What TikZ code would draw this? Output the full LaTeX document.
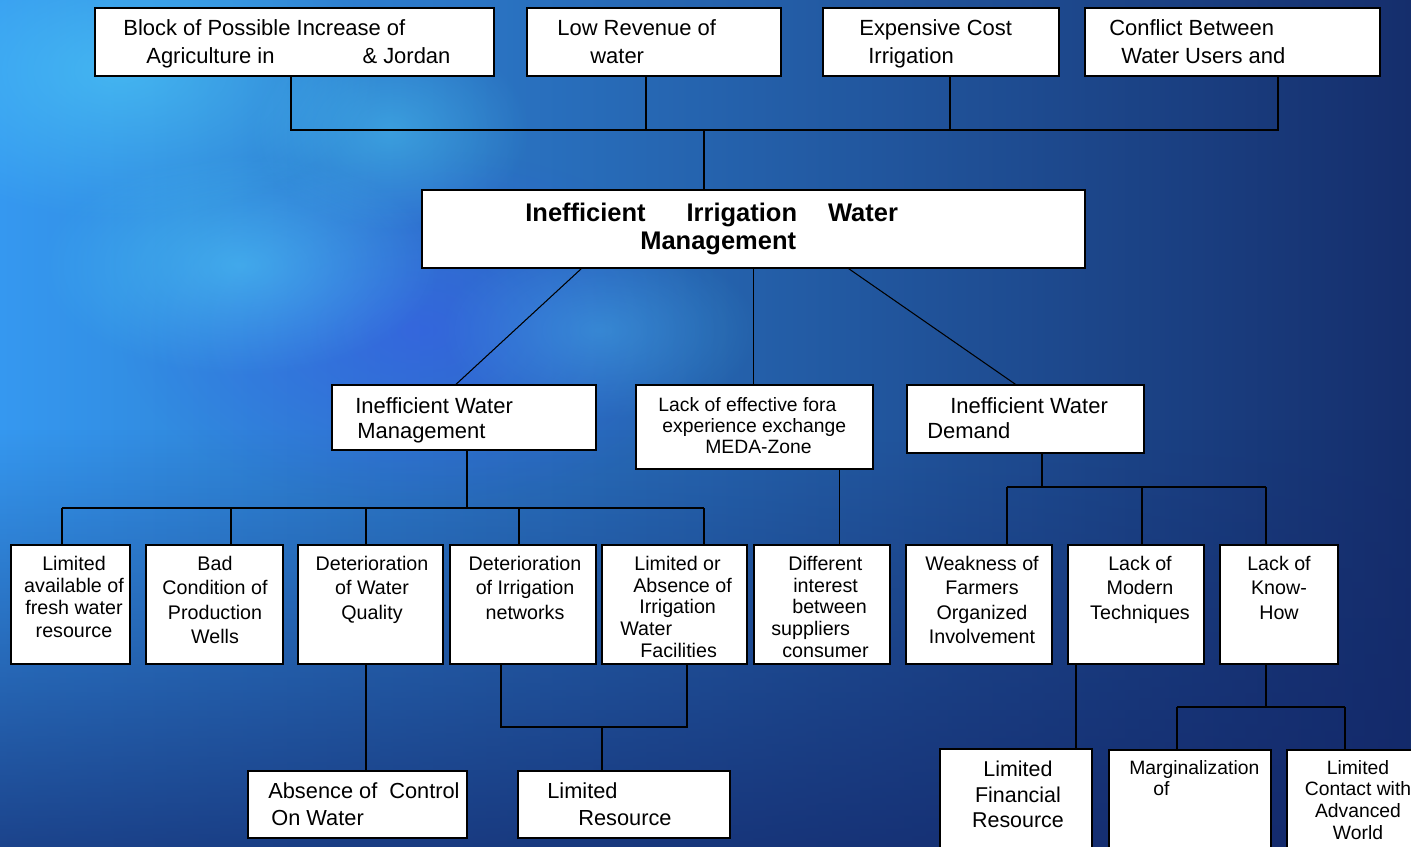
\documentclass[tikz,border=0pt]{standalone}
\usepackage{fontspec}
\setmainfont{Liberation Sans}
\usetikzlibrary{calc,fit,fadings}
\newlength{\px}\setlength{\px}{0.02cm}
\definecolor{bgleft}{HTML}{3598F0}
\definecolor{bgmid}{HTML}{2C5ADA}
\definecolor{bgright}{HTML}{152E6C}
\definecolor{glow}{HTML}{52D4FA}
\definecolor{deep}{HTML}{13276A}
\definecolor{bgviolet}{HTML}{3D55F0}
\tikzfading[name=glowfade, inner color=transparent!0, outer color=transparent!100]
\tikzset{
  box/.style={draw=black, fill=white, line width=0.75pt, inner sep=0pt},
  link/.style={line width=0.6pt},
  txt/.style={inner sep=0pt, anchor=north west, align=left, font=\fontsize{12.5}{15.9}\selectfont},
  ctxt/.style={inner sep=0pt, anchor=north, align=center, font=\fontsize{11.2}{13.8}\selectfont},
}
\begin{document}
\begin{tikzpicture}[x=0.02cm,y=-0.02cm]
\useasboundingbox (0,0) rectangle (1411,847);
% background
\shade[left color=bgleft, middle color=bgmid, right color=bgright] (0,0) rectangle (1411,847);
\fill[bgviolet, path fading=glowfade, fill opacity=.5] (420,330) ellipse (300 and 180);
\fill[glow, path fading=glowfade, fill opacity=.55] (120,70) ellipse (260 and 150);
\fill[glow, path fading=glowfade, fill opacity=.5] (240,265) ellipse (200 and 110);
\fill[glow, path fading=glowfade, fill opacity=.4] (390,130) ellipse (140 and 100);
\fill[glow, path fading=glowfade, fill opacity=.3] (600,330) ellipse (160 and 90);
\fill[deep, path fading=north, fill opacity=.75] (0,430) rectangle (1411,847);
% junctions
\coordinate (j0) at (704,130);
\coordinate (j1) at (291,130);
\coordinate (j2) at (646,130);
\coordinate (j3) at (950,130);
\coordinate (j4) at (1278,130);
\coordinate (m0) at (467,508);
\coordinate (m1) at (62,508);
\coordinate (m2) at (231,508);
\coordinate (m3) at (366,508);
\coordinate (m4) at (519,508);
\coordinate (m5) at (704,508);
\coordinate (n0) at (1042,487);
\coordinate (n1) at (1007,487);
\coordinate (n2) at (1142,487);
\coordinate (n3) at (1266,487);
\coordinate (p0) at (602,727);
\coordinate (p1) at (501,727);
\coordinate (p2) at (687,727);
\coordinate (q0) at (1076,700);
\coordinate (r0) at (1266,707);
\coordinate (r1) at (1177,707);
\coordinate (r2) at (1345,707);
% boxes
\node[box, fit={(95,8) (494,76)}] (agri) {};
\node[box, fit={(527,8) (781,76)}] (revenue) {};
\node[box, fit={(823,8) (1059,76)}] (cost) {};
\node[box, fit={(1085,8) (1380,76)}] (conflict) {};
\node[box, fit={(422,190) (1085,268)}] (main) {};
\node[box, fit={(332,385) (596,450)}] (mgmt) {};
\node[box, fit={(636,385) (873,469)}] (fora) {};
\node[box, fit={(907,385) (1144,453)}] (demand) {};
\node[box, fit={(11,545) (130,664)}] (fresh) {};
\node[box, fit={(146,545) (283,664)}] (wells) {};
\node[box, fit={(298,545) (443,664)}] (quality) {};
\node[box, fit={(450,545) (596,664)}] (networks) {};
\node[box, fit={(602,545) (747,664)}] (facil) {};
\node[box, fit={(754,545) (890,664)}] (interest) {};
\node[box, fit={(906,545) (1052,664)}] (farmers) {};
\node[box, fit={(1068,545) (1204,664)}] (modern) {};
\node[box, fit={(1220,545) (1338,664)}] (knowhow) {};
\node[box, fit={(248,771) (467,838)}] (control) {};
\node[box, fit={(518,771) (730,838)}] (finres) {};
\node[box, fit={(940,749) (1092,870)}] (finance) {};
\node[box, fit={(1109,750) (1271,870)}] (margin) {};
\node[box, fit={(1287,750) (1440,870)}] (contact) {};
% connectors
\draw[link] (agri.south -| j1) -- (j1) -- (j4) -- (conflict.south -| j4);
\draw[link] (revenue.south -| j2) -- (j2);
\draw[link] (cost.south -| j3) -- (j3);
\draw[link] (j0) -- (main.north -| j0);
\draw[link] ($(main.south west)+(160,0)$) -- ($(mgmt.north)+(-8,0)$);
\draw[link] (main.south) -- (main.south |- fora.north);
\draw[link] ($(main.south east)+(-237,0)$) -- ($(demand.north)+(-10,0)$);
\draw[link] (mgmt.south -| m0) -- (m0);
\draw[link] (m1) -- (m5);
\foreach \b/\m in {fresh/m1, wells/m2, quality/m3, networks/m4, facil/m5}
  \draw[link] (\m) -- (\b.north -| \m);
\draw[link] ($(fora.south east)+(-34,0)$) coordinate (f0) -- (f0 |- interest.north);
\draw[link] (demand.south -| n0) -- (n0);
\draw[link] (n1) -- (n3);
\foreach \b/\m in {farmers/n1, modern/n2, knowhow/n3}
  \draw[link] (\m) -- (\b.north -| \m);
\draw[link] (quality.south -| m3) -- (control.north -| m3);
\draw[link] (networks.south -| p1) -- (p1) -- (p2) -- (facil.south -| p2);
\draw[link] (p0) -- (finres.north -| p0);
\draw[link] (modern.south -| q0) -- (finance.north -| q0);
\draw[link] (knowhow.south -| r0) -- (r0);
\draw[link] (r1) -- (r2);
\draw[link] (r1) -- (margin.north -| r1);
\draw[link] (r2) -- (contact.north -| r2);
% texts
\node[txt] (agri-t) at (123,19) {Block of Possible Increase of\\\hspace*{23\px}Agriculture in\hspace*{88\px}\& Jordan};
\node[txt] (revenue-t) at (557,19) {Low Revenue of\\\hspace*{33\px}water};
\node[txt] (cost-t) at (859,19) {Expensive Cost\\\hspace*{9\px}Irrigation};
\node[txt] (conflict-t) at (1109,19) {Conflict Between\\\hspace*{12\px}Water Users and};
\node[txt, font=\bfseries\fontsize{14.5}{15.9}\selectfont] (main-t) at (525,203)
  {Inefficient\hspace*{41\px}Irrigation\hspace*{31\px}Water\\\hspace*{115\px}Management};
\node[txt, font=\fontsize{12.5}{14.2}\selectfont] (mgmt-t) at (355,397) {Inefficient Water\\\hspace*{2\px}Management};
\node[txt, font=\fontsize{11}{11.9}\selectfont] (fora-t) at (658,397)
  {Lack of effective fora\\\hspace*{4\px}experience exchange\\\hspace*{47\px}MEDA-Zone};
\node[txt, font=\fontsize{12.5}{14.2}\selectfont] (demand-t) at (927,397) {\hspace*{23\px}Inefficient Water\\Demand};
\node[ctxt, font=\fontsize{11.2}{12.6}\selectfont] (fresh-t) at (74,556) {Limited\\available of\\fresh water\\resource};
\node[ctxt] (wells-t) at (215,556) {Bad\\Condition of\\Production\\Wells};
\node[ctxt] (quality-t) at (372,556) {Deterioration\\of Water\\Quality};
\node[ctxt] (networks-t) at (525,556) {Deterioration\\of Irrigation\\networks};
\node[txt, font=\fontsize{11.2}{12.3}\selectfont] (facil-t) at (620,556)
  {\hspace*{14\px}Limited or\\\hspace*{13\px}Absence of\\\hspace*{19\px}Irrigation\\Water\\\hspace*{20\px}Facilities};
\node[txt, font=\fontsize{11.2}{12.3}\selectfont] (interest-t) at (771,556)
  {\hspace*{17\px}Different\\\hspace*{22\px}interest\\\hspace*{21\px}between\\suppliers\\\hspace*{11\px}consumer};
\node[ctxt] (farmers-t) at (982,556) {Weakness of\\Farmers\\Organized\\Involvement};
\node[ctxt] (modern-t) at (1140,556) {Lack of\\Modern\\Techniques};
\node[ctxt] (knowhow-t) at (1279,556) {Lack of\\Know-\\How};
\node[txt, font=\fontsize{12.4}{15.3}\selectfont] (control-t) at (268,782) {Absence of\hspace*{12\px}Control\\\hspace*{3\px}On Water};
\node[txt, font=\fontsize{12.4}{15.3}\selectfont] (finres-t) at (547,782) {Limited\\\hspace*{31\px}Resource};
\node[ctxt, font=\fontsize{12.2}{14.5}\selectfont] (finance-t) at (1018,761) {Limited\\Financial\\Resource};
\node[txt, font=\fontsize{11}{12}\selectfont] (margin-t) at (1129,760) {Marginalization\\\hspace*{24\px}of};
\node[ctxt, font=\fontsize{11}{12.3}\selectfont] (contact-t) at (1358,760) {Limited\\Contact with\\Advanced\\World};
\end{tikzpicture}
\end{document}
